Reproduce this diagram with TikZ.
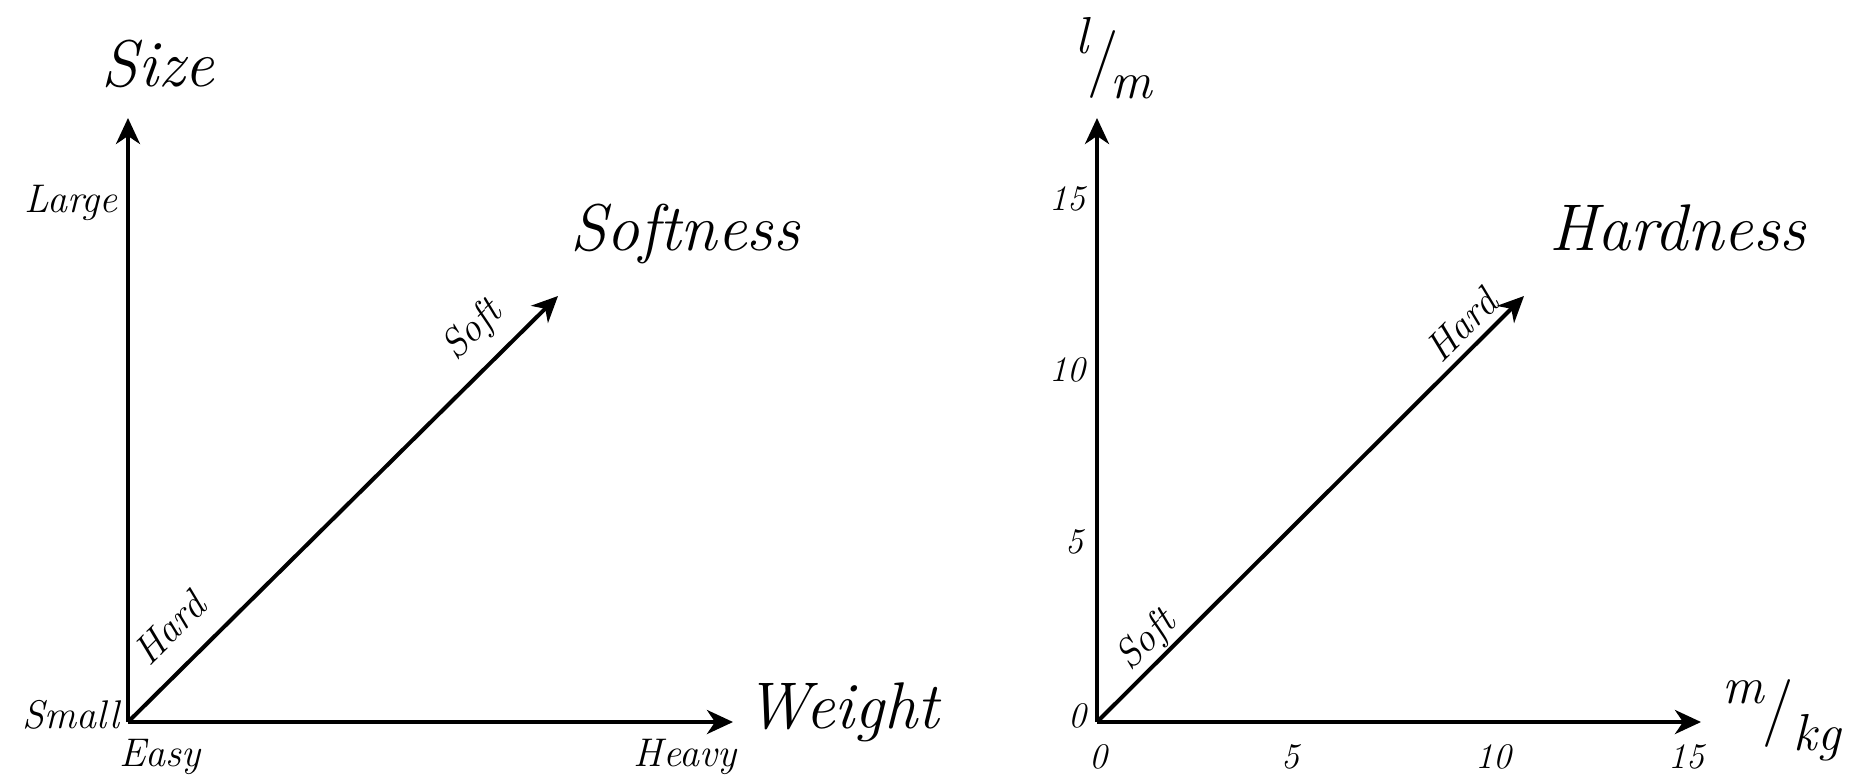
\documentclass[tikz,border=0pt]{standalone}
\usetikzlibrary{arrows.meta}
\begin{document}
\begin{tikzpicture}[x=0.5pt,y=-0.5pt,
  axis/.style={line width=2pt,-{Stealth[length=13pt,width=12pt,inset=4pt]}},
  big/.style={font=\fontsize{33}{36}\selectfont\itshape,inner sep=0pt},
  small/.style={font=\fontsize{20}{24}\selectfont\itshape,inner sep=0pt},
  num/.style={font=\fontsize{18}{22}\selectfont\itshape,inner sep=0pt},
  unit/.style={font=\fontsize{26}{30}\selectfont\itshape,inner sep=0pt},
  slash/.style={font=\fontsize{34}{36}\selectfont,inner sep=0pt}]
\useasboundingbox (0,0) rectangle (1855,782);
% left chart
\coordinate (O1) at (128,722);
\coordinate (Y1) at (128,118);
\coordinate (X1) at (733,722);
\coordinate (D1) at (558,296);
\draw[axis] (O1) -- (Y1);
\draw[axis] (O1) -- (X1);
\draw[axis] (O1) -- (D1);
\node[big,anchor=base] (size) at (158,86) {Size};
\node[big,anchor=base] (softness) at (685,250) {Softness};
\node[big,anchor=base] (weight) at (842,728) {Weight};
\node[small,anchor=base east] (large) at (118,212) {Large};
\node[small,anchor=base east] (small) at (120,728) {Small};
\node[small,anchor=base] (easy) at (160,766) {Easy};
\node[small,anchor=base] (heavy) at (685,766) {Heavy};
\node[small,rotate=45] (hard1) at (169,628) {Hard};
\node[small,rotate=45] (soft1) at (473,331) {Soft};
% right chart
\coordinate (O2) at (1097,722);
\coordinate (Y2) at (1097,118);
\coordinate (X2) at (1701,722);
\coordinate (D2) at (1524,296);
\draw[axis] (O2) -- (Y2);
\draw[axis] (O2) -- (X2);
\draw[axis] (O2) -- (D2);
\node[big,anchor=base] (hardness) at (1678,250) {Hardness};
\node[small,rotate=45] (soft2) at (1147,641) {Soft};
\node[small,rotate=45] (hard2) at (1461,325) {Hard};
\node[num,anchor=base] (y0) at (1077,727) {0};
\node[num,anchor=base] (y5) at (1074,553) {5};
\node[num,anchor=base] (y10) at (1067,381) {10};
\node[num,anchor=base] (y15) at (1067,210) {15};
\node[num,anchor=base] (x0) at (1098,768) {0};
\node[num,anchor=base] (x5) at (1290,768) {5};
\node[num,anchor=base] (x10) at (1493,768) {10};
\node[num,anchor=base] (x15) at (1686,768) {15};
\node[unit,anchor=base] (ul) at (1082,53) {l};
\node[slash] (us1) at (1103,64) {/};
\node[unit,anchor=base] (um) at (1131,98) {m};
\node[unit,anchor=base] (um2) at (1743,703) {m};
\node[slash] (us2) at (1778,713) {/};
\node[unit,anchor=base] (ukg) at (1817,750) {kg};
\end{tikzpicture}
\end{document}
